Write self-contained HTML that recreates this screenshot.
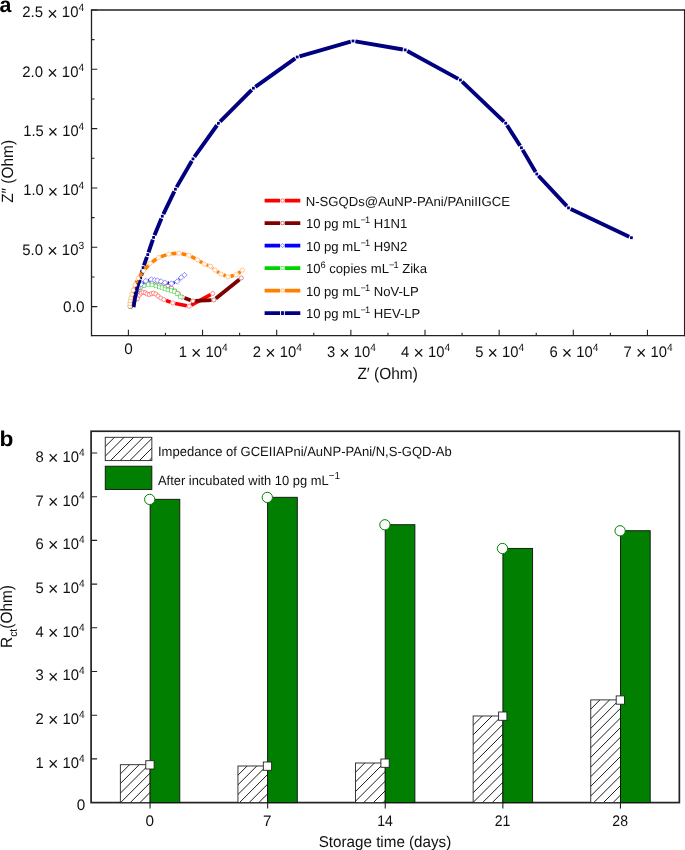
<!DOCTYPE html>
<html><head><meta charset="utf-8"><title>Figure</title>
<style>html,body{margin:0;padding:0;background:#fff}svg{display:block;will-change:transform}svg text,svg tspan{font-family:"Liberation Sans",sans-serif;text-rendering:geometricPrecision}</style>
</head><body>
<svg width="685" height="850" viewBox="0 0 685 850" style="font-family:'Liberation Sans',sans-serif">
<rect width="685" height="850" fill="#fff"/>
<text x="-0.6" y="11.9" font-size="21.5" font-weight="bold" fill="#000" textLength="11.9" lengthAdjust="spacingAndGlyphs">a</text>
<text x="-0.5" y="445.8" font-size="21.5" font-weight="bold" fill="#000" textLength="13.9" lengthAdjust="spacingAndGlyphs">b</text>
<path d="M91.5,9.25V336.29999999999995M684.6,9.25V336.29999999999995" stroke="#222" stroke-width="1.3" fill="none"/>
<path d="M91.5,10.0H684.6" stroke="#222" stroke-width="1.6" fill="none"/>
<path d="M91.5,335.65H684.6" stroke="#222" stroke-width="1.3" fill="none"/>
<path d="M91.5,306.60h5.8 M91.5,276.94h3 M91.5,247.28h5.8 M91.5,217.62h3 M91.5,187.96h5.8 M91.5,158.30h3 M91.5,128.64h5.8 M91.5,98.98h3 M91.5,69.32h5.8 M91.5,39.66h3 M91.5,10.00h5.8 M128.40,335.65v-5.8 M165.48,335.65v-3 M202.55,335.65v-5.8 M239.62,335.65v-3 M276.70,335.65v-5.8 M313.78,335.65v-3 M350.85,335.65v-5.8 M387.93,335.65v-3 M425.00,335.65v-5.8 M462.07,335.65v-3 M499.15,335.65v-5.8 M536.23,335.65v-3 M573.30,335.65v-5.8 M610.38,335.65v-3 M647.45,335.65v-5.8" stroke="#222" stroke-width="1.1" fill="none"/>
<text x="84.2" y="17.3" text-anchor="end" font-size="15.3" fill="#111" textLength="61.9" lengthAdjust="spacingAndGlyphs">2.5 <tspan font-size="18.4" dy="2.2">×</tspan><tspan dy="-2.2"> 10</tspan><tspan font-size="10.5" dy="-6.1">4</tspan></text>
<text x="84.2" y="76.7" text-anchor="end" font-size="15.3" fill="#111" textLength="61.9" lengthAdjust="spacingAndGlyphs">2.0 <tspan font-size="18.4" dy="2.2">×</tspan><tspan dy="-2.2"> 10</tspan><tspan font-size="10.5" dy="-6.1">4</tspan></text>
<text x="84.2" y="136.0" text-anchor="end" font-size="15.3" fill="#111" textLength="60.9" lengthAdjust="spacingAndGlyphs">1.5 <tspan font-size="18.4" dy="2.2">×</tspan><tspan dy="-2.2"> 10</tspan><tspan font-size="10.5" dy="-6.1">4</tspan></text>
<text x="84.2" y="195.3" text-anchor="end" font-size="15.3" fill="#111" textLength="60.9" lengthAdjust="spacingAndGlyphs">1.0 <tspan font-size="18.4" dy="2.2">×</tspan><tspan dy="-2.2"> 10</tspan><tspan font-size="10.5" dy="-6.1">4</tspan></text>
<text x="84.2" y="254.60000000000002" text-anchor="end" font-size="15.3" fill="#111" textLength="61.9" lengthAdjust="spacingAndGlyphs">5.0 <tspan font-size="18.4" dy="2.2">×</tspan><tspan dy="-2.2"> 10</tspan><tspan font-size="10.5" dy="-6.1">3</tspan></text>
<text x="84.5" y="312.0" text-anchor="end" font-size="15.3" fill="#111" textLength="21.4" lengthAdjust="spacingAndGlyphs">0.0</text>
<text x="128.6" y="353.7" text-anchor="middle" font-size="15.3" fill="#111">0</text>
<text x="203.15" y="356.7" text-anchor="middle" font-size="15.3" fill="#111" textLength="49" lengthAdjust="spacingAndGlyphs">1 <tspan font-size="18.4" dy="2.2">×</tspan><tspan dy="-2.2"> 10</tspan><tspan font-size="10.5" dy="-6.1">4</tspan></text>
<text x="277.30000000000007" y="356.7" text-anchor="middle" font-size="15.3" fill="#111" textLength="49" lengthAdjust="spacingAndGlyphs">2 <tspan font-size="18.4" dy="2.2">×</tspan><tspan dy="-2.2"> 10</tspan><tspan font-size="10.5" dy="-6.1">4</tspan></text>
<text x="351.45000000000005" y="356.7" text-anchor="middle" font-size="15.3" fill="#111" textLength="49" lengthAdjust="spacingAndGlyphs">3 <tspan font-size="18.4" dy="2.2">×</tspan><tspan dy="-2.2"> 10</tspan><tspan font-size="10.5" dy="-6.1">4</tspan></text>
<text x="425.6" y="356.7" text-anchor="middle" font-size="15.3" fill="#111" textLength="49" lengthAdjust="spacingAndGlyphs">4 <tspan font-size="18.4" dy="2.2">×</tspan><tspan dy="-2.2"> 10</tspan><tspan font-size="10.5" dy="-6.1">4</tspan></text>
<text x="499.75" y="356.7" text-anchor="middle" font-size="15.3" fill="#111" textLength="49" lengthAdjust="spacingAndGlyphs">5 <tspan font-size="18.4" dy="2.2">×</tspan><tspan dy="-2.2"> 10</tspan><tspan font-size="10.5" dy="-6.1">4</tspan></text>
<text x="573.9000000000001" y="356.7" text-anchor="middle" font-size="15.3" fill="#111" textLength="49" lengthAdjust="spacingAndGlyphs">6 <tspan font-size="18.4" dy="2.2">×</tspan><tspan dy="-2.2"> 10</tspan><tspan font-size="10.5" dy="-6.1">4</tspan></text>
<text x="648.0500000000001" y="356.7" text-anchor="middle" font-size="15.3" fill="#111" textLength="49" lengthAdjust="spacingAndGlyphs">7 <tspan font-size="18.4" dy="2.2">×</tspan><tspan dy="-2.2"> 10</tspan><tspan font-size="10.5" dy="-6.1">4</tspan></text>
<text x="387.6" y="378.8" text-anchor="middle" font-size="16.3" fill="#111" textLength="60.4" lengthAdjust="spacingAndGlyphs">Z′ (Ohm)</text>
<text transform="translate(12.8,171.4) rotate(-90)" text-anchor="middle" font-size="16.3" fill="#111" textLength="62.8" lengthAdjust="spacingAndGlyphs">Z″ (Ohm)</text>
<path d="M166.05,300.45L170.55,302.15 M175.16,303.46L186.84,305.74 M191.31,305.06L210.59,294.64" stroke="#ff0000" stroke-width="3.6" fill="none"/>
<g fill="#fff" stroke="#ff0000" stroke-width="0.42"><circle cx="130.60" cy="306.40" r="2.05"/><circle cx="131.60" cy="304.20" r="2.05"/><circle cx="132.80" cy="302.00" r="2.05"/><circle cx="134.20" cy="300.20" r="2.05"/><circle cx="135.80" cy="299.20" r="2.05"/><circle cx="137.50" cy="298.70" r="2.05"/><circle cx="139.30" cy="295.20" r="2.05"/><circle cx="141.00" cy="293.10" r="2.05"/><circle cx="143.10" cy="292.20" r="2.05"/><circle cx="145.20" cy="292.80" r="2.05"/><circle cx="147.00" cy="294.00" r="2.05"/><circle cx="149.30" cy="294.60" r="2.05"/><circle cx="151.40" cy="293.70" r="2.05"/><circle cx="153.40" cy="293.10" r="2.05"/><circle cx="155.80" cy="294.00" r="2.05"/><circle cx="158.10" cy="296.00" r="2.05"/><circle cx="160.80" cy="298.10" r="2.05"/><circle cx="163.80" cy="299.60" r="2.05"/><circle cx="172.80" cy="303.00" r="2.05"/><circle cx="189.20" cy="306.20" r="2.05"/><circle cx="212.70" cy="293.50" r="2.05"/></g>
<path d="M133.39,299.77L133.61,299.23 M135.57,294.85L135.93,294.15 M184.56,298.01L190.64,300.19 M195.30,300.89L211.50,300.11 M215.77,298.50L239.43,279.50" stroke="#800000" stroke-width="3.8" fill="none"/>
<g fill="#fff" stroke="#800000" stroke-width="0.42"><circle cx="130.80" cy="306.20" r="2.05"/><circle cx="132.50" cy="302.00" r="2.05"/><circle cx="134.50" cy="297.00" r="2.05"/><circle cx="137.00" cy="292.00" r="2.05"/><circle cx="140.00" cy="288.00" r="2.05"/><circle cx="144.00" cy="285.00" r="2.05"/><circle cx="148.00" cy="283.20" r="2.05"/><circle cx="152.00" cy="282.00" r="2.05"/><circle cx="156.00" cy="281.60" r="2.05"/><circle cx="160.00" cy="282.00" r="2.05"/><circle cx="164.00" cy="283.50" r="2.05"/><circle cx="168.00" cy="285.50" r="2.05"/><circle cx="171.50" cy="288.00" r="2.05"/><circle cx="175.00" cy="291.00" r="2.05"/><circle cx="178.50" cy="294.00" r="2.05"/><circle cx="182.30" cy="297.20" r="2.05"/><circle cx="192.90" cy="301.00" r="2.05"/><circle cx="213.90" cy="300.00" r="2.05"/><circle cx="241.30" cy="278.00" r="2.05"/></g>
<g fill="#fff" stroke="#00d200" stroke-width="0.42"><rect x="128.55" y="304.45" width="3.7" height="3.7"/><rect x="129.35" y="301.65" width="3.7" height="3.7"/><rect x="130.35" y="298.65" width="3.7" height="3.7"/><rect x="131.55" y="295.65" width="3.7" height="3.7"/><rect x="133.15" y="291.65" width="3.7" height="3.7"/><rect x="135.15" y="288.15" width="3.7" height="3.7"/><rect x="138.35" y="285.35" width="3.7" height="3.7"/><rect x="142.15" y="283.65" width="3.7" height="3.7"/><rect x="146.25" y="282.85" width="3.7" height="3.7"/><rect x="150.15" y="283.05" width="3.7" height="3.7"/><rect x="154.15" y="284.15" width="3.7" height="3.7"/><rect x="157.45" y="285.15" width="3.7" height="3.7"/><rect x="160.15" y="285.95" width="3.7" height="3.7"/><rect x="163.15" y="287.15" width="3.7" height="3.7"/><rect x="166.05" y="288.15" width="3.7" height="3.7"/><rect x="169.55" y="288.65" width="3.7" height="3.7"/><rect x="172.45" y="289.55" width="3.7" height="3.7"/><rect x="175.35" y="291.85" width="3.7" height="3.7"/><rect x="178.35" y="295.05" width="3.7" height="3.7"/></g>
<path d="M143.16,282.76L143.64,282.44 M148.30,280.29L148.90,280.11 M167.57,282.96L168.83,283.14 M173.86,282.65L174.74,282.35 M179.04,279.66L179.46,279.24" stroke="#0000ff" stroke-width="3.4" fill="none"/>
<g fill="#fff" stroke="#0000ff" stroke-width="0.42"><path d="M130.60,303.60l2.7,2.7l-2.7,2.7l-2.7,-2.7z"/><path d="M131.50,300.30l2.7,2.7l-2.7,2.7l-2.7,-2.7z"/><path d="M132.60,296.80l2.7,2.7l-2.7,2.7l-2.7,-2.7z"/><path d="M134.00,293.30l2.7,2.7l-2.7,2.7l-2.7,-2.7z"/><path d="M135.80,289.30l2.7,2.7l-2.7,2.7l-2.7,-2.7z"/><path d="M138.00,285.30l2.7,2.7l-2.7,2.7l-2.7,-2.7z"/><path d="M141.00,281.50l2.7,2.7l-2.7,2.7l-2.7,-2.7z"/><path d="M145.80,278.30l2.7,2.7l-2.7,2.7l-2.7,-2.7z"/><path d="M151.40,276.70l2.7,2.7l-2.7,2.7l-2.7,-2.7z"/><path d="M154.60,277.50l2.7,2.7l-2.7,2.7l-2.7,-2.7z"/><path d="M157.50,277.80l2.7,2.7l-2.7,2.7l-2.7,-2.7z"/><path d="M161.00,278.70l2.7,2.7l-2.7,2.7l-2.7,-2.7z"/><path d="M165.00,279.90l2.7,2.7l-2.7,2.7l-2.7,-2.7z"/><path d="M171.40,280.80l2.7,2.7l-2.7,2.7l-2.7,-2.7z"/><path d="M177.20,278.80l2.7,2.7l-2.7,2.7l-2.7,-2.7z"/><path d="M181.30,274.70l2.7,2.7l-2.7,2.7l-2.7,-2.7z"/><path d="M184.50,272.30l2.7,2.7l-2.7,2.7l-2.7,-2.7z"/></g>
<path d="M133.5,307.1L134.1,303L134.7,299.5L135.4,295.5L136.3,291L137.7,285L139.9,279.7" stroke="#000080" stroke-width="4.0" fill="none" stroke-linejoin="round"/>
<path d="M141.24,275.56L142.56,269.94 M143.91,265.34L146.94,256.86 M148.52,252.33L152.83,239.67 M154.51,235.18L161.39,218.42 M163.35,214.04L174.35,191.36 M176.61,187.12L191.79,160.98 M194.39,156.95L217.01,125.25 M220.09,121.60L251.71,89.90 M255.35,86.81L295.25,58.39 M299.51,56.34L350.69,41.66 M355.37,41.40L402.83,49.50 M407.31,51.05L458.29,78.85 M462.14,81.66L503.96,121.54 M506.99,125.22L520.11,145.78 M522.62,149.87L535.58,171.93 M538.44,175.75L566.86,206.15 M570.67,208.93L629.23,236.67" stroke="#000080" stroke-width="3.9" fill="none"/>
<g fill="#000080" stroke="#000080" stroke-width="0"><rect x="139.30" y="276.50" width="2.8" height="2.8"/><rect x="141.70" y="266.20" width="2.8" height="2.8"/><rect x="146.35" y="253.20" width="2.8" height="2.8"/><rect x="152.20" y="236.00" width="2.8" height="2.8"/><rect x="160.90" y="214.80" width="2.8" height="2.8"/><rect x="174.00" y="187.80" width="2.8" height="2.8"/><rect x="191.60" y="157.50" width="2.8" height="2.8"/><rect x="217.00" y="121.90" width="2.8" height="2.8"/><rect x="252.00" y="86.80" width="2.8" height="2.8"/><rect x="295.80" y="55.60" width="2.8" height="2.8"/><rect x="351.60" y="39.60" width="2.8" height="2.8"/><rect x="403.80" y="48.50" width="2.8" height="2.8"/><rect x="459.00" y="78.60" width="2.8" height="2.8"/><rect x="504.30" y="121.80" width="2.8" height="2.8"/><rect x="520.00" y="146.40" width="2.8" height="2.8"/><rect x="535.40" y="172.60" width="2.8" height="2.8"/><rect x="567.10" y="206.50" width="2.8" height="2.8"/><rect x="630.00" y="236.30" width="2.8" height="2.8"/></g>
<path d="M133.99,287.76L134.11,287.44 M136.09,282.64L137.01,280.66 M139.63,276.20L141.87,273.10 M145.12,269.05L148.38,265.35 M152.23,261.91L156.37,258.99 M160.96,256.66L166.34,254.84 M171.39,253.80L176.41,253.40 M181.54,253.74L186.36,254.76 M191.20,256.52L195.30,258.68 M199.79,261.30L202.11,262.80 M206.77,265.02L208.13,265.48 M212.57,268.00L213.03,268.40 M217.17,271.53L218.93,272.67 M223.53,275.04L225.67,275.86 M230.63,276.19L233.87,275.41 M238.46,273.21L240.44,271.69" stroke="#ff8000" stroke-width="3.6" fill="none"/>
<g fill="#fff" stroke="#ff8000" stroke-width="0.42"><circle cx="129.90" cy="306.30" r="2.1"/><circle cx="129.90" cy="303.70" r="2.1"/><circle cx="130.30" cy="300.70" r="2.1"/><circle cx="130.90" cy="297.80" r="2.1"/><circle cx="131.70" cy="294.30" r="2.1"/><circle cx="133.10" cy="290.20" r="2.1"/><circle cx="135.00" cy="285.00" r="2.1"/><circle cx="138.10" cy="278.30" r="2.1"/><circle cx="143.40" cy="271.00" r="2.1"/><circle cx="150.10" cy="263.40" r="2.1"/><circle cx="158.50" cy="257.50" r="2.1"/><circle cx="168.80" cy="254.00" r="2.1"/><circle cx="179.00" cy="253.20" r="2.1"/><circle cx="188.90" cy="255.30" r="2.1"/><circle cx="197.60" cy="259.90" r="2.1"/><circle cx="204.30" cy="264.20" r="2.1"/><circle cx="210.60" cy="266.30" r="2.1"/><circle cx="215.00" cy="270.10" r="2.1"/><circle cx="221.10" cy="274.10" r="2.1"/><circle cx="228.10" cy="276.80" r="2.1"/><circle cx="236.40" cy="274.80" r="2.1"/><circle cx="242.50" cy="270.10" r="2.1"/></g>
<path d="M264.6,200.6H280.1M284.8,200.6H300.3" stroke="#ff0000" stroke-width="3.8" fill="none"/>
<circle cx="282.5" cy="200.6" r="1.75" fill="#fff" stroke="#ff0000" stroke-width="0.5"/>
<text x="305.7" y="205.9" font-size="13.1" fill="#111" textLength="204.3" lengthAdjust="spacingAndGlyphs">N-SGQDs@AuNP-PAni/PAniIIGCE</text>
<path d="M264.6,223.1H280.1M284.8,223.1H300.3" stroke="#800000" stroke-width="3.8" fill="none"/>
<circle cx="282.5" cy="223.1" r="1.75" fill="#fff" stroke="#800000" stroke-width="0.5"/>
<text x="305.9" y="228.4" font-size="13.1" fill="#111">10 pg mL<tspan font-size="9.3" dy="-5.4"><tspan letter-spacing="-1">−</tspan>1</tspan><tspan dy="5.4"> H1N1</tspan></text>
<path d="M264.6,245.6H280.1M284.8,245.6H300.3" stroke="#0000ff" stroke-width="3.8" fill="none"/>
<path d="M282.5,243.6l2,2l-2,2l-2,-2z" fill="#fff" stroke="#0000ff" stroke-width="0.45"/>
<text x="305.9" y="250.9" font-size="13.1" fill="#111">10 pg mL<tspan font-size="9.3" dy="-5.4"><tspan letter-spacing="-1">−</tspan>1</tspan><tspan dy="5.4"> H9N2</tspan></text>
<path d="M264.6,268.1H280.1M284.8,268.1H300.3" stroke="#00d200" stroke-width="3.8" fill="none"/>
<rect x="281.0" y="266.6" width="3.0" height="3.0" fill="#fff" stroke="#00d200" stroke-width="0.45"/>
<text x="305.9" y="273.4" font-size="13.1" fill="#111">10<tspan font-size="9.3" dy="-5.4">6</tspan><tspan dy="5.4"> copies mL</tspan><tspan font-size="9.3" dy="-5.4"><tspan letter-spacing="-1">−</tspan>1</tspan><tspan dy="5.4"> Zika</tspan></text>
<path d="M264.6,290.6H280.1M284.8,290.6H300.3" stroke="#ff8000" stroke-width="3.8" fill="none"/>
<circle cx="282.5" cy="290.6" r="1.75" fill="#fff" stroke="#ff8000" stroke-width="0.5"/>
<text x="305.9" y="295.9" font-size="13.1" fill="#111">10 pg mL<tspan font-size="9.3" dy="-5.4"><tspan letter-spacing="-1">−</tspan>1</tspan><tspan dy="5.4"> NoV-LP</tspan></text>
<path d="M264.6,313.1H280.1M284.8,313.1H300.3" stroke="#000080" stroke-width="3.8" fill="none"/>
<rect x="281.1" y="311.2" width="2.8" height="3.8" fill="#000080"/>
<text x="305.9" y="318.4" font-size="13.1" fill="#111">10 pg mL<tspan font-size="9.3" dy="-5.4"><tspan letter-spacing="-1">−</tspan>1</tspan><tspan dy="5.4"> HEV-LP</tspan></text>
<rect x="91.1" y="431.25" width="588.25" height="371.35" fill="none" stroke="#222" stroke-width="1.7"/>
<path d="M91.1,758.90h6 M91.1,715.20h6 M91.1,671.50h6 M91.1,627.80h6 M91.1,584.10h6 M91.1,540.40h6 M91.1,496.70h6 M91.1,453.00h6 M150.05,802.6v6 M267.65,802.6v6 M385.25,802.6v6 M502.85,802.6v6 M620.45,802.6v6" stroke="#222" stroke-width="1.1" fill="none"/>
<text x="85.3" y="809.7" text-anchor="end" font-size="15.3" fill="#111">0</text>
<text x="84.6" y="767.6999999999999" text-anchor="end" font-size="15.3" fill="#111" textLength="49" lengthAdjust="spacingAndGlyphs">1 <tspan font-size="18.4" dy="2.2">×</tspan><tspan dy="-2.2"> 10</tspan><tspan font-size="10.5" dy="-6.1">4</tspan></text>
<text x="84.6" y="724.0" text-anchor="end" font-size="15.3" fill="#111" textLength="49" lengthAdjust="spacingAndGlyphs">2 <tspan font-size="18.4" dy="2.2">×</tspan><tspan dy="-2.2"> 10</tspan><tspan font-size="10.5" dy="-6.1">4</tspan></text>
<text x="84.6" y="680.3" text-anchor="end" font-size="15.3" fill="#111" textLength="49" lengthAdjust="spacingAndGlyphs">3 <tspan font-size="18.4" dy="2.2">×</tspan><tspan dy="-2.2"> 10</tspan><tspan font-size="10.5" dy="-6.1">4</tspan></text>
<text x="84.6" y="636.5999999999999" text-anchor="end" font-size="15.3" fill="#111" textLength="49" lengthAdjust="spacingAndGlyphs">4 <tspan font-size="18.4" dy="2.2">×</tspan><tspan dy="-2.2"> 10</tspan><tspan font-size="10.5" dy="-6.1">4</tspan></text>
<text x="84.6" y="592.9" text-anchor="end" font-size="15.3" fill="#111" textLength="49" lengthAdjust="spacingAndGlyphs">5 <tspan font-size="18.4" dy="2.2">×</tspan><tspan dy="-2.2"> 10</tspan><tspan font-size="10.5" dy="-6.1">4</tspan></text>
<text x="84.6" y="549.1999999999999" text-anchor="end" font-size="15.3" fill="#111" textLength="49" lengthAdjust="spacingAndGlyphs">6 <tspan font-size="18.4" dy="2.2">×</tspan><tspan dy="-2.2"> 10</tspan><tspan font-size="10.5" dy="-6.1">4</tspan></text>
<text x="84.6" y="505.5" text-anchor="end" font-size="15.3" fill="#111" textLength="49" lengthAdjust="spacingAndGlyphs">7 <tspan font-size="18.4" dy="2.2">×</tspan><tspan dy="-2.2"> 10</tspan><tspan font-size="10.5" dy="-6.1">4</tspan></text>
<text x="84.6" y="461.8" text-anchor="end" font-size="15.3" fill="#111" textLength="49" lengthAdjust="spacingAndGlyphs">8 <tspan font-size="18.4" dy="2.2">×</tspan><tspan dy="-2.2"> 10</tspan><tspan font-size="10.5" dy="-6.1">4</tspan></text>
<text x="149.75" y="826.1" text-anchor="middle" font-size="15.3" fill="#111">0</text>
<text x="267.34999999999997" y="826.1" text-anchor="middle" font-size="15.3" fill="#111">7</text>
<text x="384.95" y="826.1" text-anchor="middle" font-size="15.3" fill="#111" textLength="15.6" lengthAdjust="spacingAndGlyphs">14</text>
<text x="502.55" y="826.1" text-anchor="middle" font-size="15.3" fill="#111" textLength="15.6" lengthAdjust="spacingAndGlyphs">21</text>
<text x="620.1500000000001" y="826.1" text-anchor="middle" font-size="15.3" fill="#111" textLength="15.6" lengthAdjust="spacingAndGlyphs">28</text>
<text x="385" y="846.8" text-anchor="middle" font-size="15.6" fill="#111" textLength="132.6" lengthAdjust="spacingAndGlyphs">Storage time (days)</text>
<text transform="translate(12.3,616.5) rotate(-90)" text-anchor="middle" font-size="16.3" fill="#111" textLength="63.0" lengthAdjust="spacingAndGlyphs">R<tspan font-size="11" dy="4.4">ct</tspan><tspan dy="-4.4">(Ohm)</tspan></text>
<clipPath id="hc1"><rect x="120.35" y="764.70" width="29.70" height="37.90"/></clipPath>
<rect x="120.35" y="764.70" width="29.70" height="37.90" fill="#fff"/>
<path clip-path="url(#hc1)" d="M119.35,774.90L151.05,743.20 M119.35,784.55L151.05,752.85 M119.35,794.20L151.05,762.50 M119.35,803.85L151.05,772.15 M119.35,813.50L151.05,781.80 M119.35,823.15L151.05,791.45 M119.35,832.80L151.05,801.10" stroke="#111" stroke-width="0.95" fill="none"/>
<rect x="120.35" y="764.70" width="29.70" height="37.90" fill="none" stroke="#222" stroke-width="0.9"/>
<rect x="150.1" y="499.3" width="29.7" height="303.3" fill="#007f00" stroke="#111" stroke-width="0.9"/>
<clipPath id="hc2"><rect x="237.95" y="766.00" width="29.70" height="36.60"/></clipPath>
<rect x="237.95" y="766.00" width="29.70" height="36.60" fill="#fff"/>
<path clip-path="url(#hc2)" d="M236.95,776.20L268.65,744.50 M236.95,785.85L268.65,754.15 M236.95,795.50L268.65,763.80 M236.95,805.15L268.65,773.45 M236.95,814.80L268.65,783.10 M236.95,824.45L268.65,792.75" stroke="#111" stroke-width="0.95" fill="none"/>
<rect x="237.95" y="766.00" width="29.70" height="36.60" fill="none" stroke="#222" stroke-width="0.9"/>
<rect x="267.6" y="497.3" width="29.7" height="305.3" fill="#007f00" stroke="#111" stroke-width="0.9"/>
<clipPath id="hc3"><rect x="355.55" y="763.00" width="29.70" height="39.60"/></clipPath>
<rect x="355.55" y="763.00" width="29.70" height="39.60" fill="#fff"/>
<path clip-path="url(#hc3)" d="M354.55,773.20L386.25,741.50 M354.55,782.85L386.25,751.15 M354.55,792.50L386.25,760.80 M354.55,802.15L386.25,770.45 M354.55,811.80L386.25,780.10 M354.55,821.45L386.25,789.75 M354.55,831.10L386.25,799.40" stroke="#111" stroke-width="0.95" fill="none"/>
<rect x="355.55" y="763.00" width="29.70" height="39.60" fill="none" stroke="#222" stroke-width="0.9"/>
<rect x="385.2" y="524.7" width="29.7" height="277.9" fill="#007f00" stroke="#111" stroke-width="0.9"/>
<clipPath id="hc4"><rect x="473.15" y="716.00" width="29.70" height="86.60"/></clipPath>
<rect x="473.15" y="716.00" width="29.70" height="86.60" fill="#fff"/>
<path clip-path="url(#hc4)" d="M472.15,726.20L503.85,694.50 M472.15,735.85L503.85,704.15 M472.15,745.50L503.85,713.80 M472.15,755.15L503.85,723.45 M472.15,764.80L503.85,733.10 M472.15,774.45L503.85,742.75 M472.15,784.10L503.85,752.40 M472.15,793.75L503.85,762.05 M472.15,803.40L503.85,771.70 M472.15,813.05L503.85,781.35 M472.15,822.70L503.85,791.00 M472.15,832.35L503.85,800.65" stroke="#111" stroke-width="0.95" fill="none"/>
<rect x="473.15" y="716.00" width="29.70" height="86.60" fill="none" stroke="#222" stroke-width="0.9"/>
<rect x="502.9" y="548.4" width="29.7" height="254.2" fill="#007f00" stroke="#111" stroke-width="0.9"/>
<clipPath id="hc5"><rect x="590.75" y="699.90" width="29.70" height="102.70"/></clipPath>
<rect x="590.75" y="699.90" width="29.70" height="102.70" fill="#fff"/>
<path clip-path="url(#hc5)" d="M589.75,710.10L621.45,678.40 M589.75,719.75L621.45,688.05 M589.75,729.40L621.45,697.70 M589.75,739.05L621.45,707.35 M589.75,748.70L621.45,717.00 M589.75,758.35L621.45,726.65 M589.75,768.00L621.45,736.30 M589.75,777.65L621.45,745.95 M589.75,787.30L621.45,755.60 M589.75,796.95L621.45,765.25 M589.75,806.60L621.45,774.90 M589.75,816.25L621.45,784.55 M589.75,825.90L621.45,794.20" stroke="#111" stroke-width="0.95" fill="none"/>
<rect x="590.75" y="699.90" width="29.70" height="102.70" fill="none" stroke="#222" stroke-width="0.9"/>
<rect x="620.5" y="530.7" width="29.7" height="271.9" fill="#007f00" stroke="#111" stroke-width="0.9"/>
<rect x="145.8" y="760.7" width="8.3" height="8.3" fill="#fff" stroke="#222" stroke-width="0.9"/>
<circle cx="149.70" cy="499.40" r="5.15" fill="#fff" stroke="#007f00" stroke-width="1"/>
<rect x="263.3" y="762.0" width="8.3" height="8.3" fill="#fff" stroke="#222" stroke-width="0.9"/>
<circle cx="267.30" cy="497.40" r="5.15" fill="#fff" stroke="#007f00" stroke-width="1"/>
<rect x="380.9" y="759.0" width="8.3" height="8.3" fill="#fff" stroke="#222" stroke-width="0.9"/>
<circle cx="384.90" cy="524.80" r="5.15" fill="#fff" stroke="#007f00" stroke-width="1"/>
<rect x="498.6" y="712.0" width="8.3" height="8.3" fill="#fff" stroke="#222" stroke-width="0.9"/>
<circle cx="502.50" cy="548.50" r="5.15" fill="#fff" stroke="#007f00" stroke-width="1"/>
<rect x="616.2" y="695.9" width="8.3" height="8.3" fill="#fff" stroke="#222" stroke-width="0.9"/>
<circle cx="620.10" cy="530.80" r="5.15" fill="#fff" stroke="#007f00" stroke-width="1"/>
<clipPath id="hc6"><rect x="105.25" y="437.30" width="46.60" height="23.30"/></clipPath>
<rect x="105.25" y="437.30" width="46.60" height="23.30" fill="#fff"/>
<path clip-path="url(#hc6)" d="M104.25,447.50L152.85,398.90 M104.25,457.15L152.85,408.55 M104.25,466.80L152.85,418.20 M104.25,476.45L152.85,427.85 M104.25,486.10L152.85,437.50 M104.25,495.75L152.85,447.15 M104.25,505.40L152.85,456.80" stroke="#111" stroke-width="0.95" fill="none"/>
<rect x="105.25" y="437.30" width="46.60" height="23.30" fill="none" stroke="#222" stroke-width="0.9"/>
<rect x="105.25" y="466.2" width="46.6" height="23.3" fill="#007f00" stroke="#111" stroke-width="0.9"/>
<text x="158.0" y="455.9" font-size="13.3" fill="#111" textLength="293.7" lengthAdjust="spacingAndGlyphs">Impedance of GCEIIAPni/AuNP-PAni/N,S-GQD-Ab</text>
<text x="158.0" y="484.9" font-size="13.3" fill="#111" textLength="181.9" lengthAdjust="spacingAndGlyphs">After incubated with 10 pg mL<tspan font-size="10.2" dy="-5.6">−1</tspan></text>
</svg>
</body></html>
